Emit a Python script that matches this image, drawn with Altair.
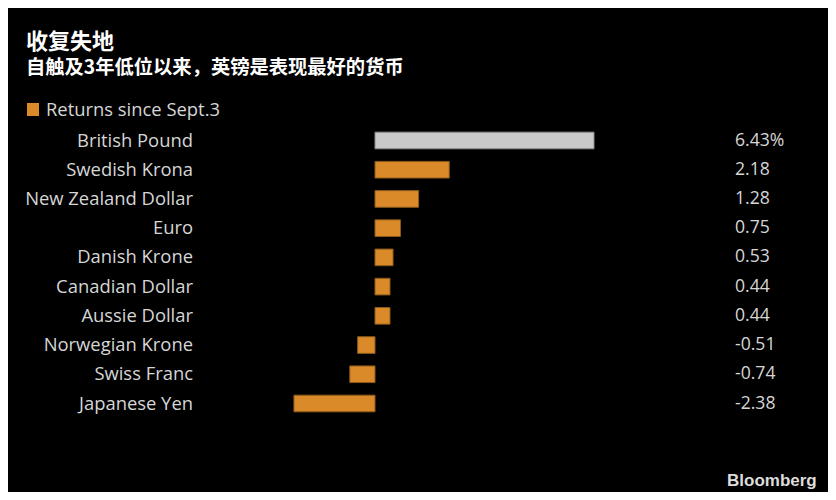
import altair as alt
import pandas as pd

# ---- data ----
currencies = ["British Pound", "Swedish Krona", "New Zealand Dollar", "Euro",
              "Danish Krone", "Canadian Dollar", "Aussie Dollar",
              "Norwegian Krone", "Swiss Franc", "Japanese Yen"]
returns = [6.43, 2.18, 1.28, 0.75, 0.53, 0.44, 0.44, -0.51, -0.74, -2.38]
value_labels = ["6.43%", "2.18", "1.28", "0.75", "0.53", "0.44", "0.44",
                "-0.51", "-0.74", "-2.38"]
title_text = ["收复失地"]
subtitle_text = ["自触及3年低位以来，英镑是表现最好的货币"]
legend_text = ["Returns since Sept.3"]
source_text = ["Bloomberg"]

df = pd.DataFrame({"currency": currencies, "ret": returns, "label": value_labels})

W, H = 820, 484
ORANGE = "#da8a29"
GRAY = "#c9c9c9"
TXT = "#d6d6d6"
FONT = "Open Sans"
FS = 18.4

# zero at chart x=367, 6.43 at chart x=586
ppu = (586 - 367) / 6.43
xdom = [-367 / ppu, (W - 367) / ppu]
xscale = alt.Scale(domain=xdom, nice=False, zero=False)

step = (395.5 - 132.5) / 9
yscale = alt.Scale(domain=currencies, range=[132.5 - step / 2, 395.5 + step / 2],
                   paddingInner=0.43, paddingOuter=0.215)

base = alt.Chart(df)

bars = base.mark_bar(strokeWidth=1).encode(
    x=alt.X("ret:Q", scale=xscale, axis=None),
    x2=alt.datum(0),
    y=alt.Y("currency:N", scale=yscale, axis=None, sort=currencies),
    color=alt.condition(alt.datum.currency == "British Pound", alt.value(GRAY), alt.value(ORANGE)),
    stroke=alt.condition(alt.datum.currency == "British Pound", alt.value("#8a8a8a"), alt.value("#8a5a1a")),
)

names = base.mark_text(align="right", baseline="middle", font=FONT, fontSize=FS, color=TXT).encode(
    y=alt.Y("currency:N", scale=yscale, axis=None, sort=currencies),
    x=alt.value(185),
    text="currency:N",
)

vals = base.mark_text(align="left", baseline="middle", font=FONT, fontSize=17.6, color=TXT).encode(
    y=alt.Y("currency:N", scale=yscale, axis=None, sort=currencies),
    x=alt.value(727),
    text="label:N",
)

def txt(lines, x, y, size, weight="normal", font=FONT, color="#ffffff", baseline="middle"):
    return alt.Chart(pd.DataFrame({"t": lines})).mark_text(
        align="left", baseline=baseline, font=font, fontSize=size, fontWeight=weight, color=color
    ).encode(text="t:N", x=alt.value(x), y=alt.value(y))

title = txt(title_text, 18, 34, 22, "bold", font="Noto Sans CJK SC")
subtitle = txt(subtitle_text, 18, 60, 19.3, "bold", font="Noto Sans CJK SC")
legend_sq = alt.Chart(pd.DataFrame({"t": legend_text})).mark_rect(color=ORANGE).encode(
    x=alt.value(19), x2=alt.value(31), y=alt.value(95), y2=alt.value(108))
legend_lab = txt(legend_text, 38, 101.5, FS, color=TXT)
source = txt(source_text, 719, 478, 17, "bold", font="Liberation Sans", color="#dcdcdc",
             baseline="alphabetic")

chart = alt.layer(bars, names, vals, title, subtitle, legend_sq, legend_lab, source).properties(
    width=W, height=H, autosize=alt.AutoSizeParams(type="none"), padding=0,
    background="#000000",
).configure_view(stroke=None)

chart.save("out.html", embed_options={"renderer": "svg", "actions": False})
